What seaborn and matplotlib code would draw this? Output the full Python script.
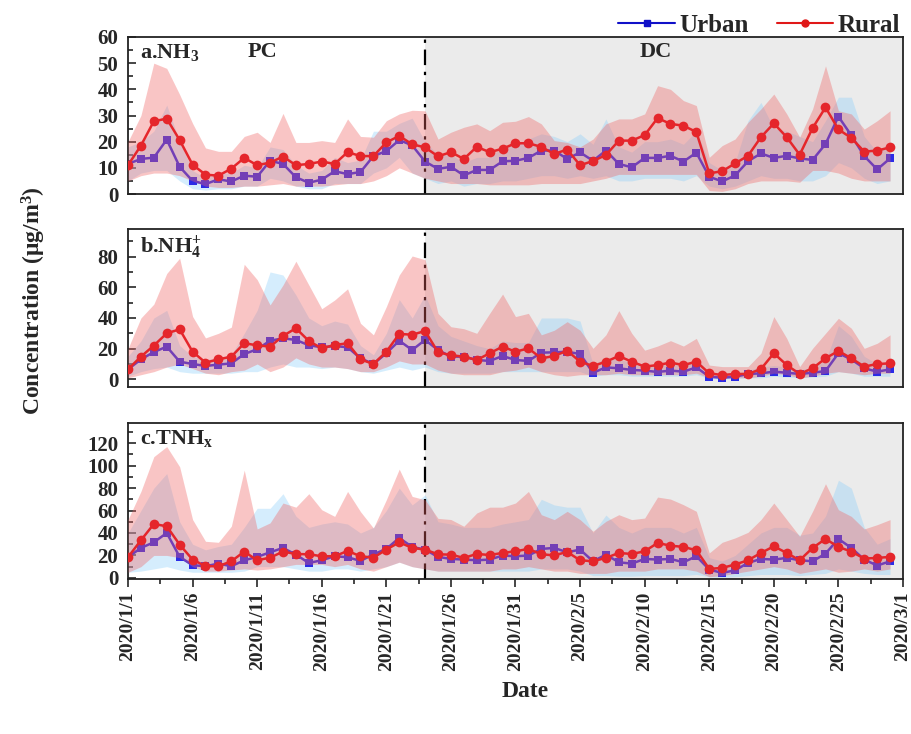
import numpy as np
import pandas as pd
import matplotlib
matplotlib.use('Agg')
import matplotlib.pyplot as plt
import matplotlib.dates as mdates
import matplotlib.ticker as mticker
from matplotlib.lines import Line2D
import seaborn as sns

# ---- data ----
dates = pd.date_range('2020-01-01', '2020-02-29', freq='D')
split_date = pd.Timestamp('2020-01-24')

urban_a = [11.5, 13.4, 13.9, 20.8, 10.4, 5, 3.8, 5.6, 4.8, 7,
           6.6, 12.7, 11.5, 6.4, 4.3, 5.5, 8.7, 7.6, 8.4, 14.5,
           16.4, 20.6, 18.6, 12.4, 9.6, 10.4, 7.1, 9.2, 9.2, 12.5,
           12.7, 13.8, 16.6, 16.6, 13.4, 15.9, 12.7, 16.6, 11.5, 10.2,
           13.8, 13.8, 14.6, 12.4, 15.8, 6.6, 4.8, 7.1, 12.5, 15.5,
           13.8, 14.6, 13.6, 13, 19.1, 29.6, 22.4, 14.5, 9.4, 13.6]
urban_a_hi = [18, 20, 24, 34, 20, 9, 6, 8, 8, 11,
              10, 18, 17, 11, 8, 9, 14, 12, 13, 24,
              24, 27, 29, 20, 15, 15, 12, 14, 14, 18,
              19, 21, 23, 22, 20, 23, 19, 28.7, 18, 16,
              20, 20, 21, 19, 24, 12, 9, 12, 28, 35,
              25, 24, 22, 20, 28, 37, 37, 22, 16, 20]
urban_a_lo = [5, 8, 9, 9, 5, 2, 1.5, 2, 2, 3,
              3, 6, 5, 3, 2, 2, 4, 4, 4, 8,
              10, 14, 8, 6, 4, 5, 3, 4, 4, 5,
              5, 6, 7, 7, 6, 7, 6, 7, 5, 5,
              6, 6, 6, 5, 7, 3, 2, 3, 5, 7,
              6, 6, 5, 5, 7, 12, 10, 6, 4, 5]
rural_a = [11, 18.5, 27.8, 28.8, 20.6, 11.2, 7.4, 7, 9.7, 13.8,
           11, 12, 14.3, 11, 11.5, 12.4, 11.5, 16, 14.5, 14.5,
           19.7, 22.2, 19, 17.8, 14.4, 16, 13.4, 18, 16, 17.3,
           19.4, 19.4, 18, 15.3, 17, 11, 12.6, 14.9, 20.4, 20.4,
           22.5, 29, 26.8, 26.1, 23.7, 7.9, 8.7, 11.7, 14.6, 21.7,
           27, 21.7, 15, 25.2, 33.1, 24.7, 21.4, 16.2, 16.6, 17.8]
rural_a_hi = [20, 30, 50, 48, 38, 27, 17.6, 16.3, 16.3, 22,
              23.6, 19.7, 30.8, 19.7, 19.7, 20.4, 19.7, 28.7, 22, 21.7,
              28, 30.6, 32, 31.8, 21, 23.6, 25.5, 26.8, 24.2, 27.4,
              27.8, 29.6, 26.8, 20.4, 19.7, 18, 21, 26.8, 28.7, 28.7,
              30.6, 41.4, 40, 35.7, 33.8, 14, 18.5, 21, 27.4, 32.5,
              38.2, 30.6, 21.7, 32.5, 49, 31.8, 30.6, 24.8, 28, 31.8]
rural_a_lo = [5, 7, 8, 8, 7, 5, 3, 2.5, 2.5, 3,
              3, 3.5, 4, 3, 3, 3, 3.5, 4, 4, 5,
              7, 10, 8, 6, 5, 4, 4, 4, 3.5, 3.5,
              3.5, 3.5, 4, 4, 4, 4, 5, 6, 7.5, 7.5,
              7.5, 7.5, 7.5, 7.5, 7.5, 1.3, 1, 2, 4, 5,
              5, 5, 4.5, 9, 9, 8, 6, 5, 5, 5]

urban_b = [6.5, 13, 17.8, 21.3, 11.5, 10, 8.7, 9.6, 10.4, 16.5,
           19.6, 25.2, 26.7, 25.7, 22.2, 20.9, 21.7, 20.9, 13.7, 10,
           17, 25.2, 19.1, 25.7, 19.1, 14.8, 14.8, 12.6, 12, 15.2,
           12.6, 12, 17.4, 17.6, 18, 16.5, 4.3, 7.8, 7.2, 6.1,
           5.7, 4.8, 5.7, 5, 7.8, 1.7, 1.1, 1.7, 3.5, 3.9,
           5, 4.3, 3.5, 4.3, 5.4, 17, 13, 7.2, 5, 6.5]
urban_b_hi = [15, 25, 40, 45, 22, 15, 13, 14, 16, 30,
              45, 70, 68, 55, 40, 35, 38, 36, 22, 16,
              30, 52, 40, 55, 35, 28, 25, 22, 20, 25,
              24, 24, 40, 40, 40, 38, 10, 14, 13, 11,
              10, 9, 10, 9, 14, 4, 3, 3, 6, 8,
              9, 8, 6, 8, 12, 35, 28, 15, 10, 12]
urban_b_lo = [2, 5, 7, 8, 5, 4, 4, 4, 4, 5,
              5, 8, 10, 8, 8, 7, 8, 7, 5, 4,
              6, 8, 6, 8, 5, 4, 4, 4, 4, 5,
              5, 5, 5, 5, 5, 5, 2, 3, 3, 2,
              2, 2, 2, 2, 3, 0.5, 0.3, 0.5, 1, 1,
              2, 1.5, 1, 1.5, 2, 5, 4, 2, 2, 2]
rural_b = [6.5, 14.8, 22, 30, 32.6, 18, 10.9, 13, 14.8, 23.5,
           22.2, 21.3, 28.3, 33.3, 25, 20.2, 22.4, 23.5, 13, 10,
           18, 29.6, 29.1, 31.5, 17.7, 15.7, 14.8, 12.6, 17, 21.3,
           18, 20.2, 13.7, 15.2, 18.7, 11.5, 8.7, 11.5, 15.2, 11.5,
           8.3, 9.3, 10.9, 9.3, 11.5, 3.9, 2.8, 3.5, 3.5, 6.7,
           17, 9.3, 3.5, 7.2, 13.7, 18.5, 13.7, 8.3, 10, 10.4]
rural_b_hi = [20, 40, 49, 69, 79, 41, 27, 30, 34, 75,
              65, 48.5, 61.5, 77, 61.5, 46, 51.7, 59, 36.5, 29,
              47.4, 68, 80.4, 78, 43, 34.3, 33, 30, 43, 55.6,
              40.9, 43, 29, 32, 37.6, 32, 20.2, 29, 44.8, 30,
              19, 21.7, 25.2, 21.7, 26.7, 9.3, 8.3, 8.3, 8.3, 17,
              40.9, 26.7, 8.3, 20.2, 30, 39.8, 33.3, 20.2, 23.5, 29]
rural_b_lo = [1, 3, 5, 8, 10, 7, 4, 3, 5, 6,
              10, 5, 8, 14, 10, 8, 8, 7, 5, 5,
              8, 12, 10, 10, 6, 4, 3, 3, 3, 5,
              6, 8, 5, 3, 2, 3, 3, 3, 4, 3,
              3, 3, 3, 3, 4, 1, 1, 1, 1, 2,
              4, 3, 1, 2, 4, 5, 4, 3, 4, 4]

urban_c = [18.4, 26.7, 31.7, 40, 18.7, 11.3, 10.4, 12.7, 10.4, 15.7,
           18.7, 22.8, 26.7, 20.7, 13.3, 15.7, 19.3, 18.4, 15.1, 21,
           25.8, 35.6, 27.6, 25.2, 18.7, 16.9, 16.3, 15.7, 16.3, 19.9,
           19.3, 19.9, 25.8, 26.7, 22.8, 25.2, 14.8, 20.7, 13.9, 12.7,
           16.9, 16.3, 16.9, 13.9, 19.3, 7.4, 4.4, 6.8, 13.3, 16.9,
           16.3, 17.8, 15.7, 14.8, 21.6, 34.7, 26.7, 16.3, 11, 14.8]
urban_c_hi = [40, 60, 80, 93, 50, 30, 25, 28, 30, 45,
              62, 62, 75, 55, 45, 48, 50, 48, 40, 45,
              60, 80, 65, 74, 50, 48, 45, 45, 45, 48,
              50, 52, 70, 65, 63, 63, 40, 56, 45, 40,
              45, 45, 45, 40, 45, 18, 15, 20, 30, 40,
              45, 45, 38, 40, 55, 87, 80, 45, 30, 35]
urban_c_lo = [5, 6, 8, 10, 7, 5, 5, 5, 5, 6,
              10, 10, 10, 8, 6, 6, 8, 8, 6, 8,
              10, 14, 10, 8, 6, 6, 6, 6, 6, 6,
              6, 6, 8, 8, 8, 6, 2, 2, 1.5, 1.5,
              2, 2, 2, 2, 3, 1, 0.5, 1, 2, 3,
              3, 3, 2, 3, 4, 8, 6, 4, 3, 3]
rural_c = [18.4, 33.5, 48, 46, 29.6, 16.3, 10.4, 10.4, 14.8, 23.4,
           15.7, 18, 23.4, 21.3, 21, 19.3, 19.3, 24, 19.3, 18,
           25.2, 31.7, 26.7, 25.2, 21, 20.7, 17.8, 21.3, 20.4, 22.2,
           23.7, 25.8, 21, 20.1, 23.1, 15.7, 14.8, 17.8, 22.2, 21.3,
           23.7, 31.1, 28.7, 27.6, 24.6, 8, 8.9, 11.9, 15.7, 22.2,
           28.1, 22.2, 15.7, 26.7, 34.7, 27.6, 23.4, 17.2, 17.8, 18.7]
rural_c_hi = [52, 77, 108, 117, 99, 52, 32.6, 31.7, 46, 96,
              43.6, 49, 66.7, 63, 75, 60.7, 54.8, 77, 59, 44.4,
              69.6, 96.9, 72.6, 69.6, 53, 52, 46, 57.8, 63, 63,
              66.7, 77, 56.3, 51.9, 59.3, 51.9, 41.5, 50.4, 56.3, 51.9,
              53.3, 72, 70.2, 65.2, 59.3, 22.2, 31.7, 35.6, 40.6, 51.9,
              66.7, 51.9, 37, 59.3, 83.9, 60.7, 54.8, 43.6, 47.4, 51.9]
rural_c_lo = [5, 10, 20, 20, 18, 10, 6, 6, 7, 8,
              7, 8, 10, 12, 12, 12, 10, 12, 8, 6,
              10, 14, 10, 8, 6, 6, 6, 6, 6, 8,
              8, 10, 8, 6, 6, 4, 4, 4, 6, 6,
              6, 8, 8, 8, 6, 1, 2, 4, 6, 8,
              10, 8, 4, 6, 8, 5, 6, 8, 6, 8]

panel_labels = [r'a.NH$_\mathbf{3}$', r'b.NH$_\mathbf{4}^\mathbf{+}$', r'c.TNH$_\mathbf{x}$']
y_limits = [(0, 60), (-5, 98), (-1, 138)]
y_major = [10, 20, 20]
y_minor = [5, 10, 10]

# ---- style ----
sns.set_style('ticks')
plt.rcParams['font.family'] = ['Liberation Serif', 'DejaVu Serif']
plt.rcParams['font.weight'] = 'bold'
plt.rcParams['mathtext.fontset'] = 'custom'
plt.rcParams['mathtext.rm'] = 'Liberation Serif:bold'
plt.rcParams['mathtext.bf'] = 'Liberation Serif:bold'
plt.rcParams['mathtext.it'] = 'Liberation Serif:bold'

blue = '#2b2be6'
red = '#e5262b'
blue_fill = '#87cefa'
red_fill = '#f06464'

fig = plt.figure(figsize=(9.11, 7.34), dpi=100)
left, width = 128 / 911, 775 / 911
boxes = [(1 - 194 / 734, 157 / 734), (1 - 387 / 734, 158 / 734), (1 - 579 / 734, 156 / 734)]

series = [
    (urban_a, urban_a_lo, urban_a_hi, rural_a, rural_a_lo, rural_a_hi),
    (urban_b, urban_b_lo, urban_b_hi, rural_b, rural_b_lo, rural_b_hi),
    (urban_c, urban_c_lo, urban_c_hi, rural_c, rural_c_lo, rural_c_hi),
]

major_dates = pd.date_range('2020-01-01', '2020-03-01', freq='5D')
minor_dates = major_dates[:-1] + pd.Timedelta(hours=60)

for k, (u, ulo, uhi, r, rlo, rhi) in enumerate(series):
    bottom, height = boxes[k]
    ax = fig.add_axes([left, bottom, width, height])
    df = pd.DataFrame({'date': dates, 'urban': u, 'rural': r})

    ax.axvspan(split_date, pd.Timestamp('2020-03-01'), color='#ebebeb', zorder=0, lw=0)
    ax.fill_between(dates, ulo, uhi, color=blue_fill, alpha=0.35, lw=0, zorder=1)
    sns.lineplot(data=df, x='date', y='urban', ax=ax, color=blue, marker='s',
                 markersize=5.5, markeredgewidth=0, linewidth=1.8, zorder=2)
    ax.axvline(split_date, color='black', linestyle=(0, (7, 3, 1.5, 3)), linewidth=1.6, zorder=2.5)
    ax.fill_between(dates, rlo, rhi, color=red_fill, alpha=0.37, lw=0, zorder=3)
    sns.lineplot(data=df, x='date', y='rural', ax=ax, color=red, marker='o',
                 markersize=7, markeredgewidth=0, linewidth=1.8, zorder=4)

    ax.set_xlim(pd.Timestamp('2020-01-01'), pd.Timestamp('2020-03-01'))
    ax.set_ylim(*y_limits[k])
    ax.set_xlabel('')
    ax.set_ylabel('')
    ax.yaxis.set_major_locator(mticker.MultipleLocator(y_major[k]))
    ax.yaxis.set_minor_locator(mticker.MultipleLocator(y_minor[k]))
    ax.tick_params(axis='y', which='major', direction='in', length=6, width=1.2,
                   labelsize=15, pad=7)
    ax.tick_params(axis='y', which='minor', direction='in', length=3.5, width=1.2)
    for lab in ax.get_yticklabels():
        lab.set_fontweight('bold')
    for sp in ax.spines.values():
        sp.set_linewidth(1.3)
        sp.set_color('#222222')

    ax.text(0.016, 0.97, panel_labels[k], transform=ax.transAxes, ha='left', va='top',
            fontsize=16, fontweight='bold', zorder=6)

    if k < 2:
        ax.set_xticks([])
        ax.xaxis.set_minor_locator(mticker.NullLocator())
    else:
        ax.xaxis.set_major_locator(mticker.FixedLocator(mdates.date2num(major_dates)))
        ax.xaxis.set_minor_locator(mticker.FixedLocator(mdates.date2num(minor_dates)))
        ax.xaxis.set_major_formatter(mticker.FuncFormatter(
            lambda v, pos: '{0}/{1}/{2}'.format(mdates.num2date(v).year,
                                                 mdates.num2date(v).month,
                                                 mdates.num2date(v).day)))
        ax.tick_params(axis='x', which='major', direction='out', length=6, width=1.2,
                       labelsize=14, pad=3, labelrotation=90)
        ax.tick_params(axis='x', which='minor', direction='out', length=3.5, width=1.2)
        for lab in ax.get_xticklabels():
            lab.set_fontweight('bold')

    if k == 0:
        ax.text(0.173, 0.965, 'PC', transform=ax.transAxes, ha='center', va='top',
                fontsize=16, fontweight='bold')
        ax.text(0.681, 0.965, 'DC', transform=ax.transAxes, ha='center', va='top',
                fontsize=16, fontweight='bold')

fig.text(0.037, 0.59, r'Concentration ($\mathbf{\mu}$g/m$^\mathbf{3}$)', rotation=90,
         ha='center', va='center', fontsize=17, fontweight='bold')
fig.text(0.577, 0.058, 'Date', ha='center', va='center', fontsize=17, fontweight='bold')

handles = [Line2D([], [], color='#1010c8', marker='s', markersize=4, linewidth=1.5),
           Line2D([], [], color='#e01818', marker='o', markersize=5, linewidth=1.5)]
fig.legend(handles, ['Urban', 'Rural'], loc='upper right', bbox_to_anchor=(1.013, 1.012),
           ncol=2, frameon=False, prop={'size': 18, 'weight': 'bold'},
           handlelength=2.25, columnspacing=1.1, handletextpad=0.2)

fig.savefig('out.png', dpi=100)
